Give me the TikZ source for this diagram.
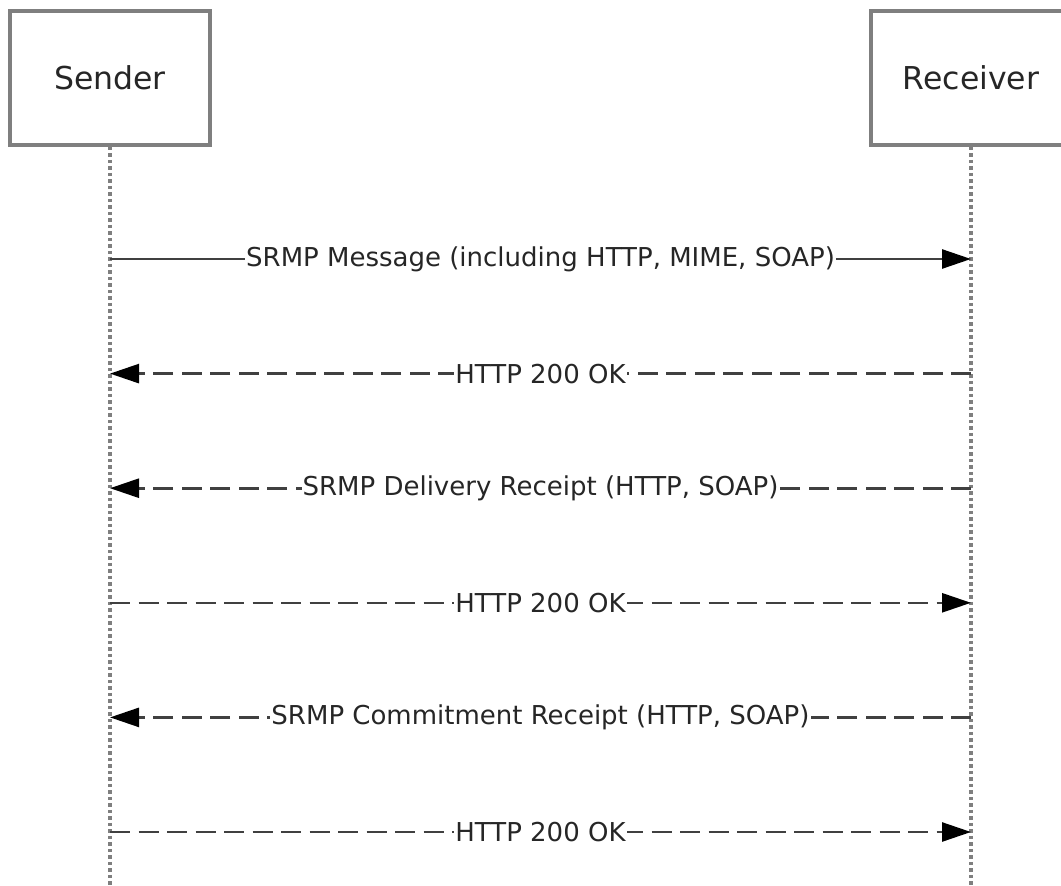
\documentclass[tikz,border=0pt]{standalone}
\usepackage{fontspec}
\setmainfont{DejaVu Sans}
\usetikzlibrary{arrows.meta}
\definecolor{boxgray}{HTML}{7F7F7F}
\tikzset{lifebox/.style={draw=boxgray, line width=3.5pt, minimum width=200pt, minimum height=134pt, inner sep=0pt, text=black!85, font=\fontsize{31.5}{36}\selectfont}}
\tikzset{lifeline/.style={draw=boxgray, line width=3.5pt, dash pattern=on 3.5pt off 3pt}}
\tikzset{call-arrow/.style={-{Triangle[length=29pt, width=19pt, color=black]}, line width=2.6pt, draw=black!75}}
\tikzset{reply-arrow/.style={call-arrow, dash pattern=on 20pt off 8.5pt}}
\tikzset{msg-label/.style={fill=white, inner xsep=1pt, inner ysep=3pt, text=black!85, font=\fontsize{26}{30}\selectfont}}

\begin{document}
\begin{tikzpicture}[x=1pt, y=-1pt]
      \clip (0, 0) rectangle (1061, 886);

      \node[lifebox] (S) at (110, 78) {Sender};
      \node[lifebox] (R) at (971, 78) {Receiver};
      \coordinate (S-end) at (110, 886);
      \coordinate (R-end) at (971, 886);

      \draw[lifeline] (S.south) -- (S-end);
      \draw[lifeline] (R.south) -- (R-end);

      \coordinate (s1) at (110, 259);   \coordinate (r1) at (971, 259);
      \coordinate (s2) at (110, 373.6); \coordinate (r2) at (971, 373.6);
      \coordinate (s3) at (110, 488.2); \coordinate (r3) at (971, 488.2);
      \coordinate (s4) at (110, 602.8); \coordinate (r4) at (971, 602.8);
      \coordinate (s5) at (110, 717.4); \coordinate (r5) at (971, 717.4);
      \coordinate (s6) at (110, 832);   \coordinate (r6) at (971, 832);

      \draw[call-arrow] (s1) -- node[msg-label] (m1) {SRMP Message (including HTTP, MIME, SOAP)} (r1);
      \draw[reply-arrow] (r2) -- node[msg-label] (m2) {HTTP 200 OK} (s2);
      \draw[reply-arrow] (r3) -- node[msg-label] (m3) {SRMP Delivery Receipt (HTTP, SOAP)} (s3);
      \draw[reply-arrow] (s4) -- node[msg-label] (m4) {HTTP 200 OK} (r4);
      \draw[reply-arrow] (r5) -- node[msg-label] (m5) {SRMP Commitment Receipt (HTTP, SOAP)} (s5);
      \draw[reply-arrow] (s6) -- node[msg-label] (m6) {HTTP 200 OK} (r6);
    \end{tikzpicture}
\end{document}
